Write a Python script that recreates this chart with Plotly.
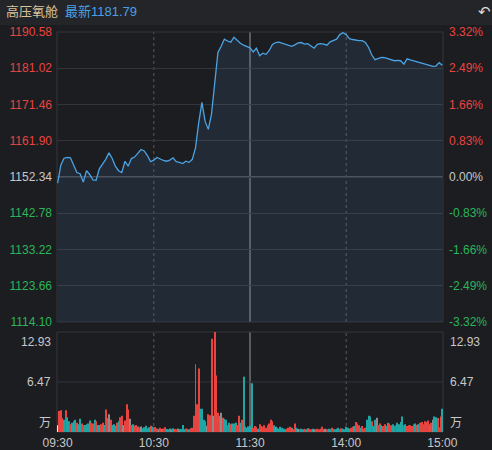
import plotly.graph_objects as go

W, H = 492, 450

# Palette
C = {
    "bg": "#1c1d21",
    "header": "#242529",
    "grid": "#34353a",
    "mid": "#4c4d52",
    "split": "#5a5b60",
    "line": "#4ba3e3",
    "fill": "rgba(70,120,170,0.15)",
    "up": "#e8443f",
    "down": "#1fa5a3",
    "flat": "#8a8b8f",
    "auction": "#e6e6e6",
    "text": "#c8c8c8",
    "green": "#2bb55a",
    "name": "#d9c29b",
    "last": "#4aa0e6",
}

title_name = "高压氧舱"
last_price = 1181.79
prev_close = 1152.34

# 分时价格：09:30 起，每 2 个交易分钟一个点
price_minutes = list(range(0, 241, 2))
prices = [
    1150.7, 1155.5, 1157.3, 1157.5, 1157.4, 1155.3, 1153.5, 1153.2, 1151.0, 1154.0,
    1153.0, 1151.6, 1151.5, 1154.5, 1155.6, 1157.0, 1158.7, 1157.3, 1155.2, 1154.0,
    1153.5, 1156.5, 1155.2, 1157.2, 1157.6, 1158.5, 1159.6, 1159.2, 1158.0, 1156.4,
    1156.8, 1157.5, 1157.0, 1156.7, 1156.5, 1156.8, 1157.4, 1156.4, 1156.2, 1155.9,
    1156.5, 1156.2, 1157.0, 1160.0, 1166.6, 1172.0, 1167.0, 1164.9, 1169.0, 1177.0,
    1185.2, 1186.8, 1188.7, 1188.2, 1187.9, 1189.2, 1188.4, 1187.6, 1187.1, 1186.7,
    1186.4, 1185.3, 1186.3, 1184.3, 1185.0, 1184.7, 1185.7, 1187.3, 1187.8, 1187.9,
    1187.6, 1187.3, 1187.0, 1186.8, 1187.2, 1187.7, 1187.8, 1187.4, 1187.5, 1186.8,
    1186.3, 1187.3, 1187.5, 1187.4, 1187.1, 1188.0, 1188.4, 1188.7, 1189.9, 1190.4,
    1189.9, 1188.8, 1188.6, 1188.4, 1188.3, 1188.3, 1187.8, 1186.5, 1184.5, 1183.3,
    1183.7, 1183.9, 1183.8, 1183.5, 1183.2, 1183.0, 1183.1, 1183.0, 1182.1, 1183.5,
    1183.2, 1183.0, 1182.8, 1182.6, 1182.4, 1182.1, 1181.8, 1181.5, 1181.6, 1182.5,
    1181.79,
]

# 每分钟成交量（万）
vol_minutes = list(range(241))
volumes = [
    0.86, 2.7, 2.8, 1.8, 1.6, 2.8, 1.9, 1.4, 1.0, 1.2,
    1.4, 1.6, 1.2, 1.0, 1.7, 1.1, 0.9, 0.9, 1.0, 1.1,
    1.5, 1.2, 1.1, 1.6, 1.4, 0.9, 0.9, 1.0, 1.2, 0.9,
    2.9, 1.8, 2.3, 1.6, 0.9, 1.0, 0.8, 1.2, 1.4, 1.9,
    2.1, 0.9, 1.5, 3.6, 2.9, 1.7, 0.9, 1.0, 0.8, 0.9,
    0.7, 0.6, 0.7, 0.5, 0.6, 0.8, 0.5, 0.6, 0.8, 0.7,
    0.6, 0.65, 0.45, 0.35, 0.55, 0.4, 0.45, 0.6, 0.4, 0.35,
    0.45, 0.35, 0.5, 0.4, 0.35, 0.45, 0.35, 0.4, 0.9, 0.35,
    0.45, 0.4, 0.35, 0.5, 0.55, 2.1, 8.75, 3.6, 8.2, 3.0,
    3.0, 1.6, 1.4, 0.8, 2.3, 2.15, 12.07, 2.1, 12.93, 7.3,
    2.5, 2.1, 2.5, 1.85, 1.7, 1.6, 0.86, 1.2, 1.0, 1.1,
    1.1, 1.2, 0.9, 2.1, 1.2, 1.6, 7.15, 0.7, 0.55, 0.7,
    0.8, 6.3, 0.55, 0.78, 0.69, 0.43, 1.0, 0.78, 0.69, 0.86,
    0.56, 0.86, 1.1, 1.6, 1.4, 0.86, 0.69, 0.56, 0.43, 0.69,
    0.56, 0.43, 0.35, 0.43, 0.56, 0.69, 0.56, 0.35, 1.1, 0.56,
    0.43, 0.35, 0.43, 0.35, 0.43, 0.35, 0.5, 0.43, 0.35, 0.43,
    0.35, 0.35, 0.43, 0.35, 0.43, 0.69, 0.35, 0.43, 0.35, 0.43,
    0.35, 0.56, 0.43, 0.35, 0.43, 0.56, 0.35, 0.5, 0.43, 0.35,
    0.69, 0.56, 0.43, 0.56, 0.69, 0.78, 1.3, 1.1, 0.86, 0.56,
    0.78, 0.43, 0.56, 1.6, 2.1, 2.0, 1.4, 0.78, 1.6, 1.85,
    0.86, 1.1, 0.86, 0.78, 1.0, 0.78, 1.2, 1.1, 0.86, 1.0,
    0.78, 0.86, 1.2, 1.0, 1.3, 2.0, 0.86, 1.0, 0.78, 0.86,
    0.86, 0.78, 1.0, 1.1, 0.9, 1.0, 1.2, 1.3, 1.0, 1.4,
    1.3, 1.5, 1.0, 1.2, 1.6, 2.0, 1.9, 1.8, 0.6, 2.0, 3.0,
]

# 每分钟涨跌：r 涨 / g 跌 / n 平 / w 集合竞价
vol_dir = "".join([
    "wrrrgrggrg", "ggrggrrggg", "grrgrggrrg", "rrnrgggrgr", "rnrrrnrgrr",
    "grngggggrg", "rrrnrnrrgg", "gngrrgnggg", "rrgrrrrrrg", "gggnrrrnrr",
    "rgnrggrgrg", "ggrrgrgggg", "ggrrrgrrrr", "rrrrrgnggg", "gggrrrgrrg",
    "nrggrggrrg", "nrrrrrgnrg", "grrgggrrgg", "gggrrgrrrg", "rrrgggrggn",
    "rrgrrggrrg", "grggggrgrr", "rrrgrgrrrr", "rrgrnggrrrg",
])

price_ticks = [1190.58, 1181.02, 1171.46, 1161.90, 1152.34, 1142.78, 1133.22, 1123.66, 1114.10]
pct_labels = ["3.32%", "2.49%", "1.66%", "0.83%", "0.00%", "-0.83%", "-1.66%", "-2.49%", "-3.32%"]
time_ticks = [0, 60, 120, 180, 240]
time_labels = ["09:30", "10:30", "11:30", "14:00", "15:00"]
vol_max = 12.93
vol_mid = 6.47


def px(x):
    return x / W


def py(y):
    return 1 - y / H


def tick_color(v):
    if abs(v - prev_close) < 1e-6:
        return C["text"]
    return C["up"] if v > prev_close else C["green"]


left_text = [f'<span style="color:{tick_color(v)}">{v:.2f}</span>' for v in price_ticks]
right_text = [f'<span style="color:{tick_color(v)}">{t}</span>' for v, t in zip(price_ticks, pct_labels)]
dir_color = {"r": C["up"], "g": C["down"], "n": C["flat"], "w": C["auction"]}
bar_colors = [dir_color[d] for d in vol_dir]

X0, X1 = 57, 443
P_TOP, P_BOT = 32, 322
V_TOP, V_BOT = 332, 432
XR = [-0.4, 240.4]

fig = go.Figure()
fig.add_trace(go.Scatter(
    x=price_minutes, y=prices, mode="lines",
    line=dict(color=C["line"], width=1.3),
    fill="tozeroy", fillcolor=C["fill"],
    xaxis="x", yaxis="y", hoverinfo="skip",
))
# invisible twin so the percent axis on the right gets drawn
fig.add_trace(go.Scatter(
    x=price_minutes, y=prices, mode="lines", opacity=0,
    line=dict(width=0), xaxis="x", yaxis="y2", hoverinfo="skip",
))
fig.add_trace(go.Bar(
    x=vol_minutes, y=volumes, width=0.62,
    marker=dict(color=bar_colors, line_width=0),
    xaxis="x2", yaxis="y3", hoverinfo="skip",
))

# grid / separators
shapes = []
for xv, solid in [(60, False), (120, True), (180, False)]:
    for yref in ["y domain", "y3 domain"]:
        shapes.append(dict(
            type="line", xref="x", yref=yref, x0=xv, x1=xv, y0=0, y1=1,
            line=dict(color=C["split"], width=2 if solid else 1,
                      dash="solid" if solid else "3px,3px"),
            layer="below",
        ))
shapes.append(dict(type="line", xref="x domain", yref="y", x0=0, x1=1,
                   y0=prev_close, y1=prev_close,
                   line=dict(color=C["mid"], width=2), layer="below"))
shapes.append(dict(type="line", xref="x2 domain", yref="y3", x0=0, x1=1,
                   y0=vol_mid, y1=vol_mid,
                   line=dict(color=C["grid"], width=1), layer="below"))
for y0, y1 in [(P_TOP, P_BOT), (V_TOP, V_BOT)]:
    shapes.append(dict(type="rect", xref="paper", yref="paper",
                       x0=px(X0), x1=px(X1), y0=py(y1), y1=py(y0),
                       line=dict(color=C["grid"], width=1), layer="below"))
shapes.append(dict(type="rect", xref="paper", yref="paper",
                   x0=0, x1=1, y0=py(25), y1=1,
                   fillcolor=C["header"], line_width=0, layer="below"))


def label(x, y, text, anchor, size=12, color=C["text"]):
    return dict(x=px(x), y=py(y), xref="paper", yref="paper", text=text,
                showarrow=False, xanchor=anchor, yanchor="middle",
                font=dict(size=size, color=color))


ann = [
    label(4, 12, title_name, "left", 13, C["name"]),
    label(63, 12, f"最新{last_price:.2f}", "left", 13, C["last"]),
    label(484, 11, "↶", "center", 15, "#dddddd"),
]
for t, yy in [(f"{vol_max:.2f}", 342), (f"{vol_mid:.2f}", 382), ("万", 423)]:
    ann.append(label(53, yy, t, "right"))
    ann.append(label(448, yy, t, "left"))

fig.update_layout(
    width=W, height=H,
    margin=dict(l=0, r=0, t=0, b=0, autoexpand=False),
    paper_bgcolor=C["bg"], plot_bgcolor=C["bg"],
    font=dict(family="Liberation Sans, Arial, Noto Sans CJK SC", size=12, color=C["text"]),
    showlegend=False,
    xaxis=dict(domain=[px(X0), px(X1)], range=XR, anchor="y", automargin=False,
               showticklabels=False, showgrid=False, zeroline=False),
    yaxis=dict(domain=[py(P_BOT), py(P_TOP)], range=[price_ticks[-1], price_ticks[0]],
               tickvals=price_ticks, ticktext=left_text, ticks="", automargin=False,
               gridcolor=C["grid"], gridwidth=1, zeroline=False, showline=False,
               ticklabelstandoff=4),
    yaxis2=dict(overlaying="y", side="right", anchor="x", automargin=False,
                range=[price_ticks[-1], price_ticks[0]],
                tickvals=price_ticks, ticktext=right_text, ticks="",
                showgrid=False, zeroline=False, ticklabelstandoff=5),
    xaxis2=dict(domain=[px(X0), px(X1)], range=XR, anchor="y3", automargin=False,
                tickvals=time_ticks, ticktext=time_labels, ticks="",
                showgrid=False, zeroline=False, tickfont=dict(color=C["text"]),
                ticklabelstandoff=2),
    yaxis3=dict(domain=[py(V_BOT), py(V_TOP)], range=[0, vol_max], anchor="x2",
                automargin=False, showticklabels=False, showgrid=False, zeroline=False),
    shapes=shapes,
    annotations=ann,
)

fig.write_html("out.html", config={"displayModeBar": False},
               post_script="document.body.style.margin='0';")
